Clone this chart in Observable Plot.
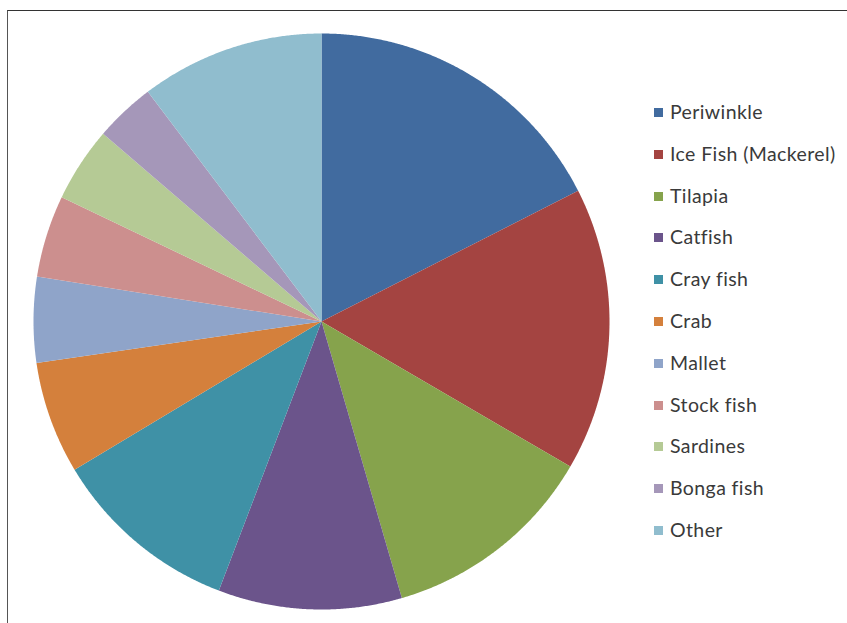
<!DOCTYPE html>
<html>
<head>
<meta charset="utf-8">
<script src="https://cdn.jsdelivr.net/npm/d3@7"></script>
<script src="https://cdn.jsdelivr.net/npm/@observablehq/plot@0.6"></script>
<style>
  html, body { margin: 0; padding: 0; background: #fff; }
  body { width: 847px; height: 623px; position: relative; overflow: hidden; font-family: Lato, "Open Sans", sans-serif; }
  #frame { position: absolute; left: 7px; top: 10px; width: 845px; height: 640px; border-top: 1.5px solid #333; border-left: 1px solid #555; box-sizing: border-box; }
  #chart { position: absolute; left: 0; top: 0; }
  #legend { position: absolute; left: 654px; top: 101px; }
  .item { height: 41.8px; display: flex; align-items: flex-start; color: #3a3a3a; font-size: 19.5px; letter-spacing: 0.4px; line-height: 22px; white-space: nowrap; }
  .sw { width: 9px; height: 9px; margin-right: 7px; margin-top: 7px; flex: none; }
</style>
</head>
<body>
<div id="frame"></div>
<div id="chart"></div>
<div id="legend"></div>
<script>
const categories = ["Periwinkle", "Ice Fish (Mackerel)", "Tilapia", "Catfish", "Cray fish", "Crab", "Mallet", "Stock fish", "Sardines", "Bonga fish", "Other"];
const shares = [17.5, 15.9, 12.1, 10.3, 10.6, 6.3, 4.8, 4.6, 4.2, 3.4, 10.3];
const colors = ["#416b9f", "#a44441", "#86a34c", "#6b548b", "#3f91a6", "#d4803c", "#8fa4c9", "#cc8f8e", "#b5ca95", "#a597b9", "#90bdce"];

// Build slice polygons (unit circle, clockwise from 12 o'clock) from the data
const pie = d3.pie().sort(null).value(d => d.value)(categories.map((c, i) => ({name: c, value: shares[i]})));
const features = pie.map(s => {
  const ring = [[0, 0]];
  const n = Math.max(8, Math.ceil((s.endAngle - s.startAngle) / 0.005));
  for (let k = 0; k <= n; k++) {
    const a = s.startAngle + (s.endAngle - s.startAngle) * k / n;
    ring.push([Math.sin(a), Math.cos(a)]);
  }
  ring.push([0, 0]);
  return {type: "Feature", properties: {name: s.data.name}, geometry: {type: "Polygon", coordinates: [ring]}};
});
const outline = {type: "MultiPoint", coordinates: [[-1, -1], [1, 1]]};

const chart = Plot.plot({
  width: 847,
  height: 623,
  marginLeft: 33,
  marginRight: 238,
  marginTop: 33,
  marginBottom: 14,
  projection: {type: "reflect-y", domain: outline},
  color: {domain: categories, range: colors},
  marks: [
    Plot.geo(features, {fill: d => d.properties.name, stroke: "none"})
  ]
});
chart.style.background = "transparent";
document.getElementById("chart").appendChild(chart);

const legend = d3.select("#legend");
categories.forEach((c, i) => {
  const item = legend.append("div").attr("class", "item");
  item.append("div").attr("class", "sw").style("background", colors[i]);
  item.append("span").text(c);
});
</script>
</body>
</html>
